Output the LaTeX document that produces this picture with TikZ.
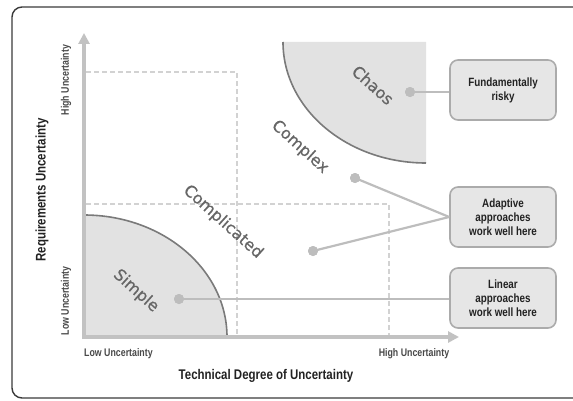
\documentclass[tikz,border=0pt]{standalone}
\usepackage{fontspec}
\setmainfont{Liberation Sans}
\newfontfamily\narrowfont[FakeStretch=0.82]{Liberation Sans}
\newfontfamily\ticknarrowfont[FakeStretch=0.8]{Liberation Sans}
\newfontfamily\zonefont[FakeBold=0.6]{DejaVu Sans}
\usetikzlibrary{arrows.meta,calc}
\definecolor{framecol}{HTML}{3A3A3A}
\definecolor{axiscol}{HTML}{C2C2C2}
\definecolor{dashcol}{HTML}{D2D2D2}
\definecolor{zonefill}{HTML}{E2E2E2}
\definecolor{curvecol}{HTML}{7A7A7A}
\definecolor{zonetext}{HTML}{666666}
\definecolor{boxfill}{HTML}{E6E6E6}
\definecolor{boxline}{HTML}{ABABAB}
\definecolor{linkcol}{HTML}{BDBDBD}
\definecolor{labelcol}{HTML}{222222}
\definecolor{tickcol}{HTML}{484848}
\tikzset{
  axisline/.style={line width=4pt, draw=axiscol, -{Triangle[width=11pt,length=11pt]}},
  gridline/.style={line width=2pt, draw=dashcol, dash pattern=on 5pt off 3pt},
  zone/.style={fill=zonefill},
  zoneedge/.style={draw=curvecol, line width=1.6pt},
  zonelabel/.style={font=\zonefont\fontsize{16}{16}\selectfont, text=zonetext, rotate=-42, inner sep=0pt},
  notebox/.style={draw=boxline, fill=boxfill, line width=1.6pt, rounded corners=8pt,
    minimum width=106pt, minimum height=60pt, align=center, text=labelcol,
    font=\narrowfont\bfseries\fontsize{12}{14}\selectfont},
  dot/.style={circle, fill=linkcol, minimum size=10pt, inner sep=0pt},
  link/.style={draw=linkcol, line width=2.2pt},
  axislabel/.style={text=labelcol, font=\narrowfont\bfseries\fontsize{14}{14}\selectfont, inner sep=0pt},
  ticklabel/.style={text=tickcol, font=\ticknarrowfont\bfseries\fontsize{11}{11}\selectfont, inner sep=0pt},
}
\begin{document}
\begin{tikzpicture}[x=1pt, y=1pt]
\useasboundingbox (0,0) rectangle (573,400);
\clip (0,0) rectangle (573,400);

% outer frame
\draw[framecol, line width=1.4pt, rounded corners=10pt] (12,2) rectangle (600,393);

% shaded zones
\fill[zone] (84,63) -- (84,185) arc[start angle=90, end angle=0, x radius=143, y radius=122] -- cycle;
\draw[zoneedge] (84,185) arc[start angle=90, end angle=0, x radius=143, y radius=122];
\fill[zone] (426,358) -- (283,358) arc[start angle=180, end angle=270, x radius=143, y radius=121] -- cycle;
\draw[zoneedge] (283,358) arc[start angle=180, end angle=270, x radius=143, y radius=121];

% dashed boundaries
\draw[gridline] (86,328) -- (237,328) -- (237,64);
\draw[gridline] (86,196) -- (389,196) -- (389,64);

% axes
\coordinate (origin) at (84,63);
\coordinate (ytip) at (84,367);
\coordinate (xtip) at (459,63);
\draw[axisline] ($(origin)+(0,-2)$) -- (ytip);
\draw[axisline] ($(origin)+(-2,0)$) -- (xtip);

% zone names
\node[zonelabel] (chaos) at (373,315) {Chaos};
\node[zonelabel] (complex) at (300,253) {Complex};
\node[zonelabel] (complicated) at (223,178) {Complicated};
\node[zonelabel] (simple) at (136,109) {Simple};

% annotation boxes
\node[notebox] (risky) at (503,310) {Fundamentally\\risky};
\node[notebox] (adaptive) at (503,183) {Adaptive\\approaches\\work well here};
\node[notebox] (linear) at (503,102) {Linear\\approaches\\work well here};

% markers and leaders
\node[dot] (dchaos) at (410,308) {};
\node[dot] (dcomplex) at (355,222) {};
\node[dot] (dcomplicated) at (313,149) {};
\node[dot] (dsimple) at (179,101) {};
\draw[link] (dchaos.center) -- (dchaos.center -| risky.west);
\draw[link] (dcomplex.center) -- (adaptive.west);
\draw[link] (dcomplicated.center) -- (adaptive.west);
\draw[link] (dsimple.center) -- (dsimple.center -| linear.west);
\node[dot] at (dchaos) {};
\node[dot] at (dcomplex) {};
\node[dot] at (dcomplicated) {};
\node[dot] at (dsimple) {};

% axis titles
\node[axislabel, rotate=90] (ytitle) at (42,210) {Requirements Uncertainty};
\node[axislabel] (xtitle) at (266,24) {Technical Degree of Uncertainty};
\node[ticklabel, rotate=90] (yhigh) at (66,320) {High Uncertainty};
\node[ticklabel, rotate=90] (ylow) at (66,99) {Low Uncertainty};
\node[ticklabel, anchor=west] (xlow) at (84,46) {Low Uncertainty};
\node[ticklabel] (xhigh) at (414,46) {High Uncertainty};
\end{tikzpicture}
\end{document}
